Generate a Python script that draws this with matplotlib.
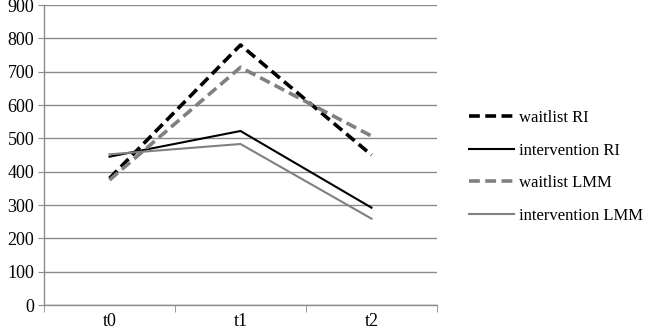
import matplotlib.pyplot as plt
import numpy as np

# ------------------- DATA -------------------
timepoints = ["t0", "t1", "t2"]
waitlist_ri = [380, 780, 450]
intervention_ri = [445, 522, 292]
waitlist_lmm = [375, 713, 507]
intervention_lmm = [452, 483, 259]

plt.rcParams["font.family"] = ["Liberation Serif", "DejaVu Serif"]

fig = plt.figure(figsize=(6.46, 3.32), dpi=100)
ax = fig.add_axes([44 / 646, 1 - 305 / 332, 393 / 646, 300 / 332])

x = np.arange(len(timepoints))
ax.plot(x, waitlist_ri, color="black", lw=2.6, dashes=(3.0, 1.5), label="waitlist RI")
ax.plot(x, intervention_ri, color="black", lw=1.5, label="intervention RI")
ax.plot(x, waitlist_lmm, color="#808080", lw=2.6, dashes=(3.0, 1.5), label="waitlist LMM")
ax.plot(x, intervention_lmm, color="#808080", lw=1.5, label="intervention LMM")

# axes / grid
ax.set_xlim(-0.5, 2.5)
ax.set_ylim(0, 900)
ax.set_yticks(np.arange(0, 901, 100))
ax.yaxis.grid(True, color="#8c8c8c", lw=1.0)
ax.set_axisbelow(True)
for s in ["top", "right"]:
    ax.spines[s].set_visible(False)
for s in ["left", "bottom"]:
    ax.spines[s].set_color("#8c8c8c")
    ax.spines[s].set_linewidth(1.0)

ax.set_xticks(x)
ax.set_xticklabels(timepoints)
ax.set_xticks([-0.5, 0.5, 1.5, 2.5], minor=True)
ax.tick_params(axis="x", which="major", length=0, pad=6, labelsize=13)
ax.tick_params(axis="x", which="minor", length=5, color="#8c8c8c", direction="out")
ax.tick_params(axis="y", length=4, color="#8c8c8c", labelsize=13, pad=3)

leg = ax.legend(loc="center left", bbox_to_anchor=(1.081, 0.46), frameon=False,
                fontsize=12, handlelength=2.7, handletextpad=0.3, labelspacing=1.0,
                borderpad=0, borderaxespad=0)

fig.savefig("out.png", dpi=100)
